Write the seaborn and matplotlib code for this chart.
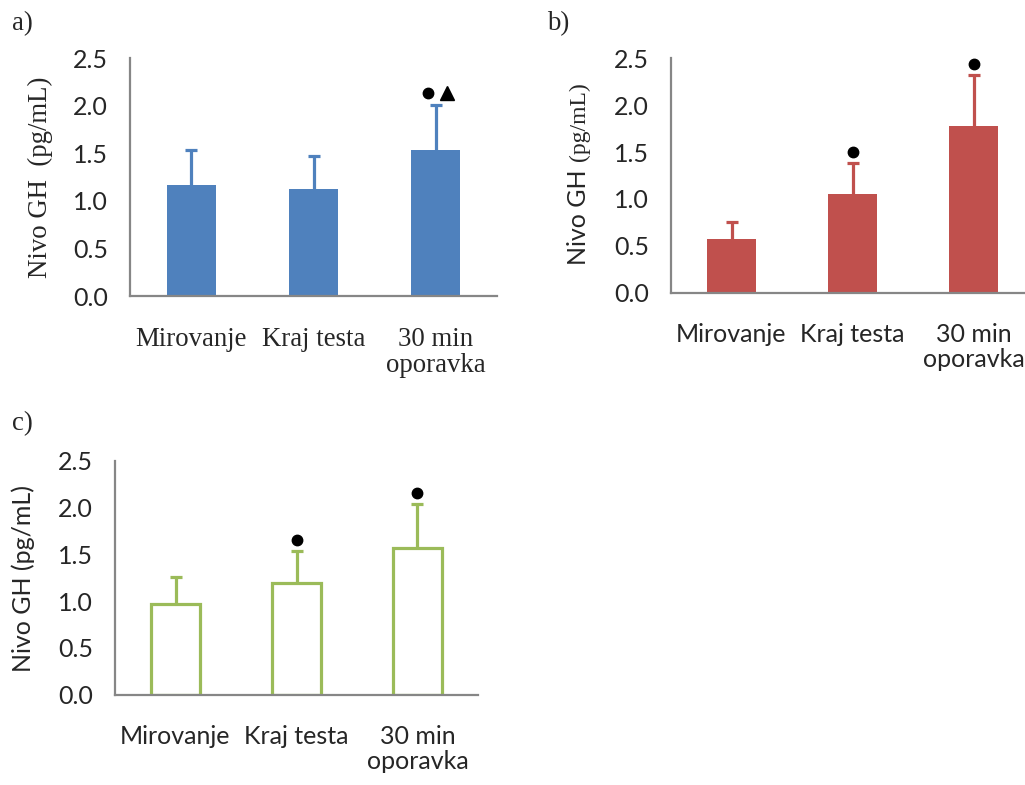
import matplotlib
matplotlib.use("Agg")
import matplotlib.pyplot as plt
import matplotlib.transforms as mtransforms
import seaborn as sns

# Growth-hormone levels at three time points, three groups
categories = ["Mirovanje", "Kraj testa", "30 min\noporavka"]

gh_a = [1.17, 1.12, 1.53]
err_a = [0.36, 0.35, 0.48]

gh_b = [0.57, 1.05, 1.78]
err_b = [0.18, 0.33, 0.54]

gh_c = [0.97, 1.19, 1.57]
err_c = [0.29, 0.35, 0.47]

# significance symbols above each bar
sig_a = ["", "", "o^"]
sig_b = ["", "o", "o"]
sig_c = ["", "o", "o"]

yticks = [0.0, 0.5, 1.0, 1.5, 2.0, 2.5]

sns.set_style("white")
plt.rcParams["font.family"] = ["Lato", "DejaVu Sans"]

SANS = ["Lato", "DejaVu Sans"]
SERIF = ["Liberation Serif", "DejaVu Serif"]
GREY = "#868686"
TICK_FS = 18
SERIF_FS = 19.3

fig = plt.figure(figsize=(10.25, 7.85), dpi=100)
W, H = 1025, 785


def px_axes(left, bottom, right, top):
    return fig.add_axes([left / W, 1 - bottom / H, (right - left) / W, (bottom - top) / H])


def panel(ax, values, errs, sig, color, hollow, xfont):
    if hollow:
        sns.barplot(x=categories, y=values, ax=ax, color="white", width=0.4,
                    saturation=1, errorbar=None, edgecolor=color, linewidth=2.3)
    else:
        sns.barplot(x=categories, y=values, ax=ax, color=color, width=0.4,
                    saturation=1, errorbar=None, linewidth=0)
    xs = list(range(len(values)))
    eb = ax.errorbar(xs, values, yerr=[[0] * len(errs), errs], fmt="none",
                     ecolor=color, elinewidth=2.3, capsize=4.5, capthick=2.3, zorder=3)
    # one-sided bars: keep only the upper cap
    eb[1][0].set_visible(False)

    for x, v, e, s in zip(xs, values, errs, sig):
        if not s:
            continue
        y = v + e + 0.12
        if s == "o":
            ax.plot([x], [y], marker="o", ms=7.5, color="black", ls="none", zorder=4)
        else:
            left = mtransforms.offset_copy(ax.transData, fig=fig, x=-8, y=0, units="dots")
            right = mtransforms.offset_copy(ax.transData, fig=fig, x=11, y=0, units="dots")
            ax.plot([x], [y], marker="o", ms=7.5, color="black", ls="none",
                    transform=left, zorder=4)
            ax.plot([x], [y], marker="^", ms=9.5, color="black", ls="none",
                    transform=right, zorder=4)

    ax.set_xlim(-0.5, 2.5)
    ax.set_ylim(0, 2.5)
    ax.set_yticks(yticks)
    ax.set_yticklabels([f"{t:.1f}" for t in yticks])
    ax.set_xlabel("")
    ax.set_ylabel("")
    sns.despine(ax=ax)
    for side in ("left", "bottom"):
        ax.spines[side].set_color(GREY)
        ax.spines[side].set_linewidth(1.6)
    ax.tick_params(axis="y", length=0, pad=16, labelsize=TICK_FS)
    ax.tick_params(axis="x", length=0, pad=22)
    for lab in ax.get_yticklabels():
        lab.set_fontfamily(SANS)
    for lab in ax.get_xticklabels():
        if xfont == "serif":
            lab.set_fontfamily(SERIF)
            lab.set_fontsize(SERIF_FS)
        else:
            lab.set_fontfamily(SANS)
            lab.set_fontsize(TICK_FS)
        lab.set_linespacing(1.1)
        lab.set_verticalalignment("top")


ax_a = px_axes(130, 296, 497, 58)
panel(ax_a, gh_a, err_a, sig_a, "#4F81BD", False, "serif")

ax_b = px_axes(671, 292.7, 1034, 58.3)
panel(ax_b, gh_b, err_b, sig_b, "#C0504D", False, "sans")

ax_c = px_axes(115, 694.7, 478, 461)
panel(ax_c, gh_c, err_c, sig_c, "#9BBB59", True, "sans")

# panel letters
for txt, x, y in [("a)", 12, 24), ("b)", 547, 24), ("c)", 12, 424)]:
    fig.text(x / W, 1 - y / H, txt, family=SERIF, fontsize=SERIF_FS,
             ha="left", va="center")

# y-axis titles
fig.text(40 / W, 1 - 177 / H, "Nivo GH  (pg/mL)", family=SERIF, fontsize=SERIF_FS,
         rotation=90, ha="center", va="center")
fig.text(579 / W, 1 - 265 / H, "Nivo GH", family=SANS, fontsize=TICK_FS,
         rotation=90, ha="center", va="bottom")
fig.text(579 / W, 1 - 82 / H, "(pg/mL)", family=SERIF, fontsize=17,
         rotation=90, ha="center", va="top")
fig.text(23 / W, 1 - 578 / H, "Nivo GH (pg/mL)", family=SANS, fontsize=TICK_FS,
         rotation=90, ha="center", va="center")

fig.savefig("out.png", dpi=100, facecolor="white")
